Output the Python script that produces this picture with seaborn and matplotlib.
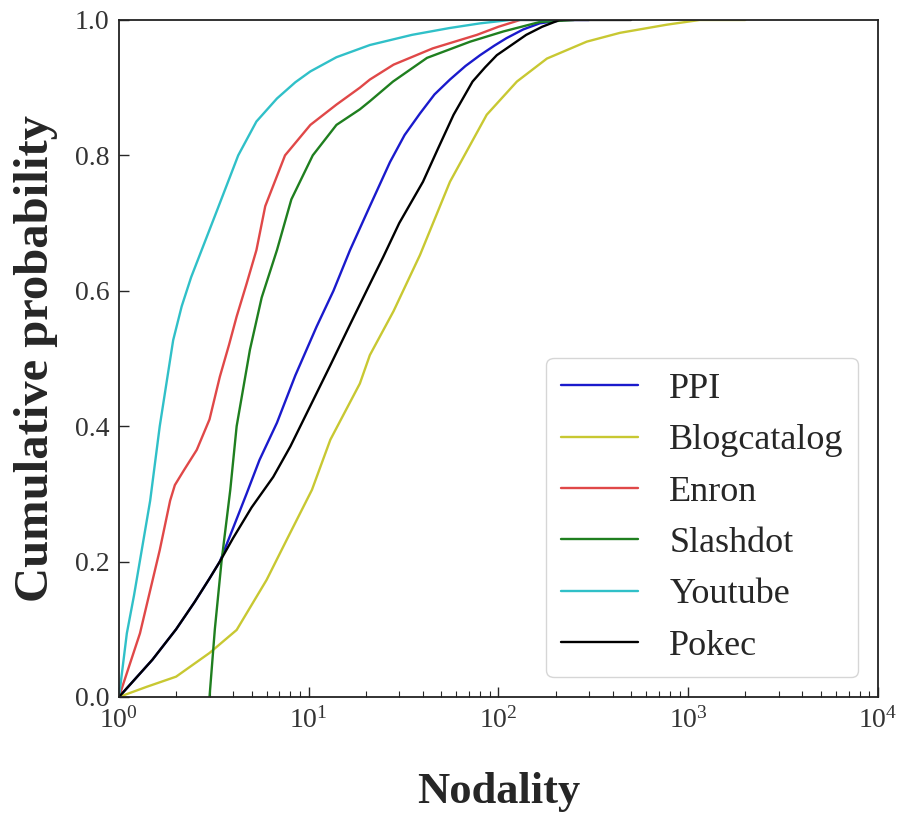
import matplotlib
matplotlib.use("Agg")
import matplotlib.pyplot as plt
import seaborn as sns
import pandas as pd

# ---------------------
# Data
# ---------------------

names = ['PPI', 'Blogcatalog', 'Enron', 'Slashdot', 'Youtube', 'Pokec']
colors = ['#1a1acc', '#c8c832', '#e04848', '#1f7f1f', '#30c0c8', '#000000']

ppi_x = [1, 1.5, 2, 2.5, 3, 3.4, 4, 4.7, 5.5, 6.8, 8.5, 11, 13.5, 16.5, 21, 26.8, 32,
         38.6, 46, 55.5, 67, 80, 95, 110, 135, 165, 220, 300]
ppi_y = [0, 0.055, 0.10, 0.14, 0.175, 0.2, 0.25, 0.30, 0.35, 0.405, 0.475, 0.547, 0.60,
         0.66, 0.725, 0.79, 0.83, 0.862, 0.89, 0.912, 0.932, 0.948, 0.962, 0.973, 0.986,
         0.995, 1.0, 1.0]

blog_x = [1, 1.4, 2.0, 3.0, 4.17, 6.0, 7.65, 10.4, 13, 18.6, 21, 28, 38.6, 55.5, 86.7,
          125, 180, 292, 437, 770, 1150, 2000]
blog_y = [0, 0.015, 0.03, 0.065, 0.099, 0.173, 0.232, 0.306, 0.38, 0.463, 0.505, 0.57,
          0.653, 0.761, 0.86, 0.909, 0.943, 0.968, 0.981, 0.993, 1.0, 1.0]

enron_x = [1, 1.29, 1.64, 1.86, 1.97, 2.2, 2.57, 3.0, 3.4, 3.8, 4.17, 4.7, 5.3, 5.9, 7.5,
           10.2, 14, 18.6, 21, 28, 45, 77, 100, 130, 200]
enron_y = [0, 0.094, 0.217, 0.29, 0.313, 0.335, 0.365, 0.41, 0.473, 0.52, 0.562, 0.61,
           0.66, 0.725, 0.8, 0.845, 0.875, 0.9, 0.912, 0.934, 0.958, 0.978, 0.99, 1.0, 1.0]

slash_x = [3.0, 3.2, 3.47, 3.86, 4.17, 4.9, 5.65, 6.8, 8.1, 10.5, 14, 18.6, 21, 27.8, 42,
           71, 106, 165, 250]
slash_y = [0, 0.1, 0.2, 0.306, 0.40, 0.513, 0.59, 0.66, 0.735, 0.8, 0.845, 0.868, 0.88,
           0.909, 0.944, 0.968, 0.983, 0.997, 1.0]

yt_x = [1, 1.1, 1.2, 1.46, 1.64, 1.93, 2.14, 2.4, 2.77, 3.3, 4.25, 5.3, 6.8, 8.5, 10.2, 14,
        21, 35, 55, 80, 115, 200]
yt_y = [0, 0.094, 0.15, 0.29, 0.4, 0.527, 0.577, 0.62, 0.665, 0.72, 0.8, 0.85, 0.884, 0.908,
        0.924, 0.945, 0.963, 0.978, 0.988, 0.995, 1.0, 1.0]

pokec_x = [1, 1.5, 2, 2.5, 3, 3.4, 4, 5, 6.5, 8, 10.2, 13, 16.5, 21, 24.7, 30, 40, 48,
           58, 73, 85, 98, 120, 140, 170, 210, 300, 500]
pokec_y = [0, 0.055, 0.10, 0.14, 0.175, 0.2, 0.235, 0.28, 0.325, 0.37, 0.43, 0.49,
           0.55, 0.61, 0.65, 0.70, 0.761, 0.81, 0.86, 0.909, 0.93, 0.948, 0.965, 0.978,
           0.99, 1.0, 1.0, 1.0]

series = [(ppi_x, ppi_y), (blog_x, blog_y), (enron_x, enron_y),
          (slash_x, slash_y), (yt_x, yt_y), (pokec_x, pokec_y)]

# ---------------------
# Style
# ---------------------

sns.set_style('ticks')
plt.rcParams['font.family'] = ['Liberation Serif', 'DejaVu Serif']
plt.rcParams['mathtext.fontset'] = 'custom'
plt.rcParams['mathtext.rm'] = 'Liberation Serif'

fig, ax = plt.subplots(figsize=(8.98, 8.32), dpi=100)
fig.subplots_adjust(left=0.1325, right=0.9777, bottom=0.1623, top=0.976)

for name, color, (xs, ys) in zip(names, colors, series):
    df = pd.DataFrame({'x': xs, 'y': ys})
    sns.lineplot(data=df, x='x', y='y', color=color, label=name, linewidth=1.7,
                 estimator=None, sort=False, ax=ax)

ax.set_xscale('log')
ax.set_xlim(1, 1e4)
ax.set_ylim(0, 1.0)
ax.set_yticks([0.0, 0.2, 0.4, 0.6, 0.8, 1.0])

for side in ['top', 'right', 'bottom', 'left']:
    ax.spines[side].set_visible(True)
    ax.spines[side].set_color('#222222')
    ax.spines[side].set_linewidth(1.3)

ax.tick_params(axis='both', which='major', direction='in', length=7, width=1,
               labelsize=20, labelcolor='#333333', pad=7, top=False, right=False)
ax.tick_params(axis='x', which='minor', direction='in', length=4, width=0.8,
               top=False)
ax.tick_params(axis='y', which='minor', left=False)

ax.set_xlabel('Nodality', fontsize=32, fontweight='bold', labelpad=28)
ax.set_ylabel('Cumulative probability', fontsize=35, fontweight='bold', labelpad=12)

ax.legend(loc='lower right', fontsize=26, borderaxespad=0.55, labelspacing=0.5,
          handlelength=2.15, handletextpad=0.85, fancybox=True, framealpha=0.8)

fig.savefig('out.png', dpi=100)
